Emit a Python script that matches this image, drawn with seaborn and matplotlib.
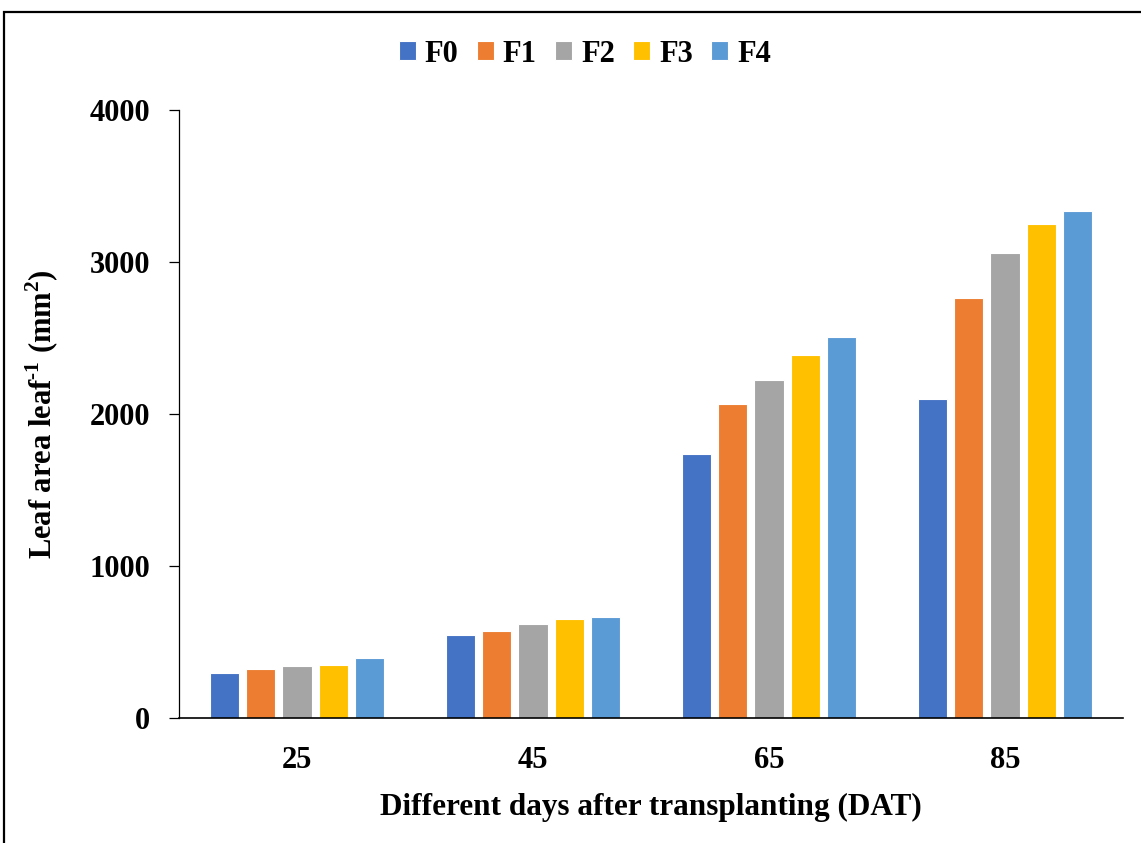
import matplotlib
matplotlib.use("Agg")
import matplotlib.pyplot as plt
import matplotlib.patches as mpatches
import seaborn as sns
import pandas as pd

days = ["25", "45", "65", "85"]
treatments = ["F0", "F1", "F2", "F3", "F4"]
F0 = [298, 548, 1738, 2100]
F1 = [322, 572, 2068, 2763]
F2 = [340, 618, 2222, 3060]
F3 = [349, 651, 2386, 3250]
F4 = [393, 664, 2505, 3335]
colors = ["#4472C4", "#ED7D31", "#A5A5A5", "#FFC000", "#5B9BD5"]

series = {"F0": F0, "F1": F1, "F2": F2, "F3": F3, "F4": F4}
rows = []
for t in treatments:
    for d, v in zip(days, series[t]):
        rows.append({"DAT": d, "Treatment": t, "Value": v})
df = pd.DataFrame(rows)

sns.set_style("white")
plt.rcParams["font.family"] = ["Liberation Serif", "DejaVu Serif"]
plt.rcParams["font.weight"] = "bold"
plt.rcParams["text.color"] = "black"
plt.rcParams["axes.labelcolor"] = "black"
plt.rcParams["xtick.color"] = "black"
plt.rcParams["ytick.color"] = "black"
plt.rcParams["mathtext.fontset"] = "custom"
plt.rcParams["mathtext.rm"] = "Liberation Serif:bold"
plt.rcParams["mathtext.bf"] = "Liberation Serif:bold"

FS = 22
W, H = 1141, 843
fig = plt.figure(figsize=(W / 100, H / 100), dpi=100)
ax = fig.add_axes([179 / W, (H - 718) / H, (1123 - 179) / W, (718 - 110) / H])

sns.barplot(data=df, x="DAT", y="Value", hue="Treatment", order=days,
            hue_order=treatments, palette=colors, saturation=1, width=0.77, gap=0.2,
            edgecolor="white", linewidth=0.8, ax=ax, legend=True)

ax.set_xlim(-0.5, 3.5)
ax.set_ylim(0, 4000)
ax.set_yticks([0, 1000, 2000, 3000, 4000])
ax.set_yticklabels(["0", "1000", "2000", "3000", "4000"], fontsize=FS, fontweight="bold")
ax.set_xticks(range(4))
ax.set_xticklabels(days, fontsize=FS, fontweight="bold")
ax.set_xticks([-0.5, 0.5, 1.5, 2.5, 3.5], minor=True)
ax.tick_params(axis="x", which="major", length=0, pad=20)
ax.tick_params(axis="x", which="minor", length=7, width=1.2, direction="out", color="black")
ax.tick_params(axis="y", which="major", length=7, width=0.9, direction="out", color="black", pad=14, left=True)

for s in ["top", "right"]:
    ax.spines[s].set_visible(False)
ax.spines["left"].set_color("black")
ax.spines["left"].set_linewidth(0.9)
ax.spines["bottom"].set_color("black")
ax.spines["bottom"].set_linewidth(1.2)

ax.set_xlabel("Different days after transplanting (DAT)", fontsize=FS + 0.5, fontweight="bold", labelpad=13)
ax.set_ylabel(r"Leaf area leaf$^{\text{-}1}$ (mm$^{2}$)", fontsize=FS, fontweight="bold")
ax.yaxis.set_label_coords((61 - 179) / (1123 - 179), 0.5)

handles, labels = ax.get_legend_handles_labels()
ax.legend(handles, labels, loc="center", bbox_to_anchor=(585 / W, (H - 54) / H),
          bbox_transform=fig.transFigure, ncol=5, frameon=False,
          handlelength=0.55, handleheight=0.55, handletextpad=0.3,
          columnspacing=0.6, prop={"size": FS, "weight": "bold"})

frame = mpatches.Rectangle((4 / W, -0.1), 1.2, (H - 12) / H + 0.1, transform=fig.transFigure,
                           fill=False, edgecolor="black", linewidth=1.6, clip_on=False)
fig.patches.append(frame)

fig.savefig("out.png", dpi=100)
